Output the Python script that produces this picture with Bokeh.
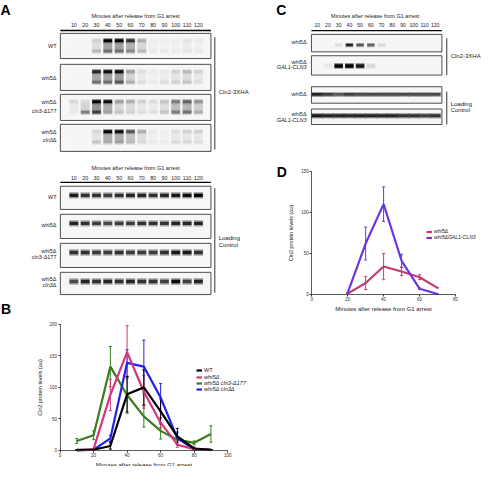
import numpy as np
from bokeh.plotting import figure
from bokeh.layouts import row, column
from bokeh.models import (Range1d, LinearAxis, FixedTicker, Whisker, TeeHead,
                          Legend, LegendItem, ColumnDataSource)
from bokeh.transform import linear_cmap
from bokeh.palettes import Greys256
from bokeh.core.properties import value
from bokeh.embed import file_html
from bokeh.resources import INLINE

FONT = "Liberation Sans"
TXT = "#222222"

# ---------------- data ----------------
lane_minutes = [10, 20, 30, 40, 50, 60, 70, 80, 90, 100, 110, 120]

# Panel A, Cln2-3XHA blot: upper / lower band intensities (0..1)
A_WT_UP = [0, 0, 0.15, 1.0, 1.0, 0.8, 0.3, 0.04, 0.03, 0.03, 0.08, 0.05]
A_WT_LO = [0, 0, 0.25, 0.55, 0.55, 0.45, 0.25, 0.05, 0.05, 0.05, 0.08, 0.05]
A_W5_UP = [0, 0, 0.85, 0.95, 0.95, 0.35, 0.1, 0.04, 0.05, 0.15, 0.25, 0.15]
A_W5_LO = [0, 0, 0.55, 0.55, 0.65, 0.3, 0.1, 0.05, 0.1, 0.15, 0.2, 0.1]
A_D177_UP = [0.12, 0.1, 1.0, 0.95, 0.35, 0.3, 0.15, 0.1, 0.2, 0.5, 0.6, 0.4]
A_D177_LO = [0.05, 0.5, 0.75, 0.35, 0.2, 0.15, 0.1, 0.1, 0.2, 0.5, 0.55, 0.3]
A_C3_UP = [0, 0, 0.12, 1.0, 0.95, 0.65, 0.3, 0.05, 0.03, 0.1, 0.15, 0.15]
A_C3_LO = [0, 0, 0.2, 0.3, 0.35, 0.25, 0.12, 0.05, 0.05, 0.12, 0.12, 0.1]
# Panel A, loading control
A_WT_LC = [0.9, 0.8, 0.8, 0.75, 0.8, 0.85, 0.85, 0.8, 0.85, 0.9, 0.95, 1.0]
A_W5_LC = [0.85, 0.8, 0.75, 0.7, 0.75, 0.75, 0.8, 0.8, 0.8, 0.85, 0.85, 0.85]
A_D177_LC = [0.8, 0.8, 0.75, 0.75, 0.8, 0.75, 0.75, 0.75, 0.8, 0.9, 0.9, 0.8]
A_C3_LC = [0.7, 0.85, 0.8, 0.85, 0.8, 0.85, 0.8, 0.8, 0.75, 0.95, 0.75, 0.85]

# Panel C blots
C_W5_CLN2 = [0, 0, 0.1, 0.85, 0.65, 0.6, 0.12, 0, 0, 0, 0, 0]
C_GAL_CLN2 = [0, 0.05, 1.0, 1.0, 0.9, 0.12, 0, 0, 0, 0, 0, 0]
C_W5_LC = [0.85, 0.75, 0.65, 0.75, 0.7, 0.7, 0.7, 0.7, 0.7, 0.7, 0.7, 0.7]
C_GAL_LC = [0.9, 0.85, 0.85, 0.85, 0.85, 0.85, 0.85, 0.85, 0.8, 0.8, 0.75, 0.8]

# Panel B quantification
B_MIN = [10, 20, 30, 40, 50, 60, 70, 80, 90]
B_WT = [1, 1, 7, 89, 100, 62, 22, 3, 1]
B_WT_ERR = [0, 0, 5, 28, 28, 20, 13, 2, 0]
B_W5 = [0, 2, 88, 156, 93, 44, 9, 2, 1]
B_W5_ERR = [0, 1, 25, 42, 26, 8, 4, 1, 0]
B_D177 = [15, 24, 133, 88, 54, 31, 17, 12, 26]
B_D177_ERR = [4, 7, 32, 29, 17, 13, 5, 3, 13]
B_C3 = [0, 1, 19, 139, 133, 84, 19, 2, 1]
B_C3_ERR = [0, 1, 5, 21, 42, 22, 10, 1, 0]
B_XTICKS = [0, 20, 40, 60, 80, 100]
B_YTICKS = [0, 50, 100, 150, 200]

# Panel D quantification
D_MIN = [20, 30, 40, 50, 60, 70]
D_W5 = [1, 14, 34, 28, 21, 8]
D_W5_ERR = [0, 8, 16, 5, 3, 0]
D_GAL = [2, 62, 110, 41, 7, 0.5]
D_GAL_ERR = [0, 20, 21, 8, 1, 0]
D_XTICKS = [0, 20, 40, 60, 80]
D_YTICKS = [0, 50, 100, 150]

XLABEL = "Minutes after release from G1 arrest"
YLABEL = "Cln2 protein levels (au)"

GREY_PAL = list(reversed(Greys256))
CMAP = linear_cmap("v", GREY_PAL, low=-0.04, high=1.0)


def canvas(w, h, xr, yr):
    p = figure(width=w, height=h, x_range=xr, y_range=yr, x_axis_type=None,
               y_axis_type=None, toolbar_location=None, output_backend="svg",
               min_border=0, outline_line_color=None)
    p.background_fill_color = "white"
    p.border_fill_color = "white"
    return p


def txt(p, x, y, t, size, align="left", baseline="middle", style="normal",
        color=TXT, range_name=None):
    kw = {}
    if range_name:
        kw["x_range_name"] = range_name
    p.text(x=x if isinstance(x, list) else [x], y=y if isinstance(y, list) else [y],
           text=t if isinstance(t, list) else [t], text_font=value(FONT),
           text_font_size=value(size), text_align=align, text_baseline=baseline,
           text_font_style=style, text_color=color, **kw)


def bands(p, vals, yc, core_h, halo_h, w, alpha=0.4):
    src = ColumnDataSource(dict(x=lane_minutes, v=list(vals)))
    p.rect(x="x", y=yc, width=w, height=halo_h, source=src, x_range_name="lanes",
           fill_color=CMAP, fill_alpha=alpha, line_color=None)
    p.rect(x="x", y=yc, width=w * 0.92, height=core_h, source=src,
           x_range_name="lanes", fill_color=CMAP, line_color=None)


def boxes(p, x0, x1, tops, bots):
    p.quad(left=[x0] * len(tops), right=[x1] * len(tops), top=tops, bottom=bots,
           fill_color="#f6f6f6", line_color="#3a3a3a", line_width=0.9)


# ================= Panel A (blots) =================
pA = canvas(251, 296, Range1d(0, 260), Range1d(306, 0))
pA.extra_x_ranges = {"lanes": Range1d(-54.806, 166.899)}

txt(pA, 0, 2, "A", "14px", baseline="top", style="bold", color="black")

for title_y, lab_y, line_y in [(16, 25, 31), (173, 183, 188)]:
    txt(pA, 140, title_y, XLABEL, "5.5px", align="center")
    txt(pA, lane_minutes, [lab_y] * 12, [str(m) for m in lane_minutes], "5.3px",
        align="center", range_name="lanes")
    pA.segment(x0=[62], x1=[218], y0=[line_y], y1=[line_y], line_color="black",
               line_width=1.3)

cln2_tops = [34, 66, 97, 128]
cln2_bots = [60, 93, 124, 156]
boxes(pA, 62, 218, cln2_tops, cln2_bots)
for t, up, lo in zip(cln2_tops, [A_WT_UP, A_W5_UP, A_D177_UP, A_C3_UP],
                     [A_WT_LO, A_W5_LO, A_D177_LO, A_C3_LO]):
    smear = 0.45 * (np.array(up) + np.array(lo)) / 2
    bands(pA, smear, t + 13, 9, 12, 8.1, alpha=0.6)
    bands(pA, lo, t + 18.5, 2.4, 5, 8.1)
    bands(pA, up, t + 7.5, 2.8, 5.5, 8.1)

lc_tops = [192, 221, 251, 281]
lc_bots = [216, 246, 276, 304]
boxes(pA, 62, 218, lc_tops, lc_bots)
for t, lc in zip(lc_tops, [A_WT_LC, A_W5_LC, A_D177_LC, A_C3_LC]):
    bands(pA, lc, t + 9.5, 3.4, 6.5, 8.3)

# row labels
txt(pA, 58, 47, "WT", "5.5px", align="right")
txt(pA, 58, 80, "whi5\u0394", "5.5px", align="right")
txt(pA, 58, 104.5, "whi5\u0394", "5.5px", align="right")
txt(pA, 58, 114, "cln3-\u0394177", "5.5px", align="right")
txt(pA, 58, 135.5, "whi5\u0394", "5.5px", align="right")
txt(pA, 58, 144.5, "cln3\u0394", "5.5px", align="right")
txt(pA, 58, 203, "WT", "5.5px", align="right")
txt(pA, 58, 232, "whi5\u0394", "5.5px", align="right")
txt(pA, 58, 259, "whi5\u0394", "5.5px", align="right")
txt(pA, 58, 265, "cln3-\u0394177", "5.5px", align="right")
txt(pA, 58, 288, "whi5\u0394", "5.5px", align="right")
txt(pA, 58, 294, "cln3\u0394", "5.5px", align="right")

pA.segment(x0=[222, 222], x1=[222, 222], y0=[38, 194], y1=[154, 302],
           line_color="#333333", line_width=1)
txt(pA, 226, 95, "Cln2-3XHA", "6px")
txt(pA, 226, 246, "Loading", "6px")
txt(pA, 226, 252.5, "Control", "6px")

# ================= Panel C (blots) =================
pC = canvas(232, 155, Range1d(260, 500), Range1d(160, 0))
pC.extra_x_ranges = {"lanes": Range1d(-51.311, 165.082)}

txt(pC, 285.5, 2, "C", "14px", baseline="top", style="bold", color="black")
txt(pC, 388, 16, XLABEL, "5.5px", align="center")
txt(pC, lane_minutes, [25] * 12, [str(m) for m in lane_minutes], "5.1px",
    align="center", range_name="lanes")
pC.segment(x0=[322], x1=[457], y0=[31], y1=[31], line_color="black", line_width=1.3)

c_tops = [35, 57, 89, 112]
c_bots = [53, 77, 106, 128]
boxes(pC, 322, 457, c_tops, c_bots)
bands(pC, C_W5_CLN2, 46, 2.6, 4.5, 7.2)
bands(pC, C_GAL_CLN2, 67.5, 3.6, 6, 8.4)
bands(pC, C_W5_LC, 97, 2.8, 5, 10.8)
bands(pC, C_GAL_LC, 119, 3.2, 5.5, 10.8)

txt(pC, 317, 43, "whi5\u0394", "5.5px", align="right")
txt(pC, 317, 63, "whi5\u0394", "5.5px", align="right")
txt(pC, 317, 69, "GAL1-CLN3", "5.5px", align="right", style="italic")
txt(pC, 317, 97, "whi5\u0394", "5.5px", align="right")
txt(pC, 317, 117, "whi5\u0394", "5.5px", align="right")
txt(pC, 317, 123, "GAL1-CLN3", "5.5px", align="right", style="italic")

pC.segment(x0=[462, 462], x1=[462, 462], y0=[39, 94], y1=[77, 128],
           line_color="#333333", line_width=1)
txt(pC, 466, 57, "Cln2-3XHA", "6px")
txt(pC, 466, 107, "Loading", "6px")
txt(pC, 466, 113, "Control", "6px")


# ================= line charts =================
def add_axes(p, xb, yb, xticks, yticks):
    common = dict(axis_line_color="#333333", axis_line_width=0.8,
                  major_tick_line_color="#333333", major_tick_out=2, major_tick_in=0,
                  minor_tick_line_color=None, major_label_text_font=FONT,
                  major_label_text_font_size="4.5px", major_label_text_color="#333333",
                  major_label_standoff=1, axis_label_text_font=FONT,
                  axis_label_text_font_style="normal", axis_label_text_color=TXT)
    xa = LinearAxis(fixed_location=0, bounds=xb, ticker=FixedTicker(ticks=xticks),
                    axis_label=XLABEL, axis_label_text_font_size="6px",
                    axis_label_standoff=1, **common)
    ya = LinearAxis(fixed_location=0, bounds=yb, ticker=FixedTicker(ticks=yticks),
                    axis_label=YLABEL, axis_label_text_font_size="5.5px",
                    axis_label_standoff=4, **common)
    p.add_layout(xa, "below")
    p.add_layout(ya, "left")


def series(p, xs, ys, errs, color, width=2.2):
    y = np.array(ys, dtype=float)
    e = np.array(errs, dtype=float)
    src = ColumnDataSource(dict(base=xs, upper=y + e, lower=y - e))
    w = Whisker(source=src, base="base", upper="upper", lower="lower",
                dimension="height", line_color=color, line_width=1,
                upper_head=TeeHead(size=3, line_color=color, line_width=1),
                lower_head=TeeHead(size=3, line_color=color, line_width=1))
    p.add_layout(w)
    return p.line(xs, ys, line_color=color, line_width=width)


def make_legend(p, items, loc, style, size, row_h):
    lg = Legend(items=items, location=loc, label_text_font=FONT,
                label_text_font_size=size, label_text_font_style=style,
                label_text_color=TXT, glyph_width=6, glyph_height=row_h,
                label_height=row_h, label_standoff=2, spacing=0, padding=0,
                margin=0, border_line_color=None, background_fill_alpha=0)
    p.add_layout(lg)


# ---- Panel B ----
pB = canvas(251, 170, Range1d(-35.54, 114.23), Range1d(-25.6, 244.3))
add_axes(pB, (0, 100), (0, 200), B_XTICKS, B_YTICKS)
txt(pB, -35.3, 237, "B", "14px", baseline="top", style="bold", color="black")

C_WT, C_W5, C_D177, C_C3 = "#000000", "#d0357d", "#3b7d1e", "#2222e6"
r_d177 = series(pB, B_MIN, B_D177, B_D177_ERR, C_D177)
r_c3 = series(pB, B_MIN, B_C3, B_C3_ERR, C_C3)
r_w5 = series(pB, B_MIN, B_W5, B_W5_ERR, C_W5)
r_wt = series(pB, B_MIN, B_WT, B_WT_ERR, C_WT)

make_legend(pB, [LegendItem(label="WT", renderers=[r_wt])], (196, 93),
            "normal", "5.6px", 6)
make_legend(pB, [LegendItem(label="whi5\u0394", renderers=[r_w5]),
                 LegendItem(label="whi5\u0394 cln3-\u0394177", renderers=[r_d177]),
                 LegendItem(label="whi5\u0394 cln3\u0394", renderers=[r_c3])],
            (196, 74), "italic", "5.6px", 6)

# ---- Panel D ----
pD = canvas(232, 193, Range1d(-33.51, 95.59), Range1d(-65.8, 169.2))
add_axes(pD, (0, 80), (0, 150), D_XTICKS, D_YTICKS)
txt(pD, -19.4, 158.5, "D", "14px", baseline="top", style="bold", color="black")

C_DW5, C_DGAL = "#c8396f", "#6a35e3"
r_dw5 = series(pD, D_MIN, D_W5, D_W5_ERR, C_DW5)
r_dgal = series(pD, D_MIN, D_GAL, D_GAL_ERR, C_DGAL)

make_legend(pD, [LegendItem(label="whi5\u0394", renderers=[r_dw5]),
                 LegendItem(label="whi5\u0394GAL1-CLN3", renderers=[r_dgal])],
            (175, 108), "italic", "5.1px", 5)

layout = row(column(pA, pB), column(pC, pD))
open("out.html", "w").write(file_html(layout, INLINE))
